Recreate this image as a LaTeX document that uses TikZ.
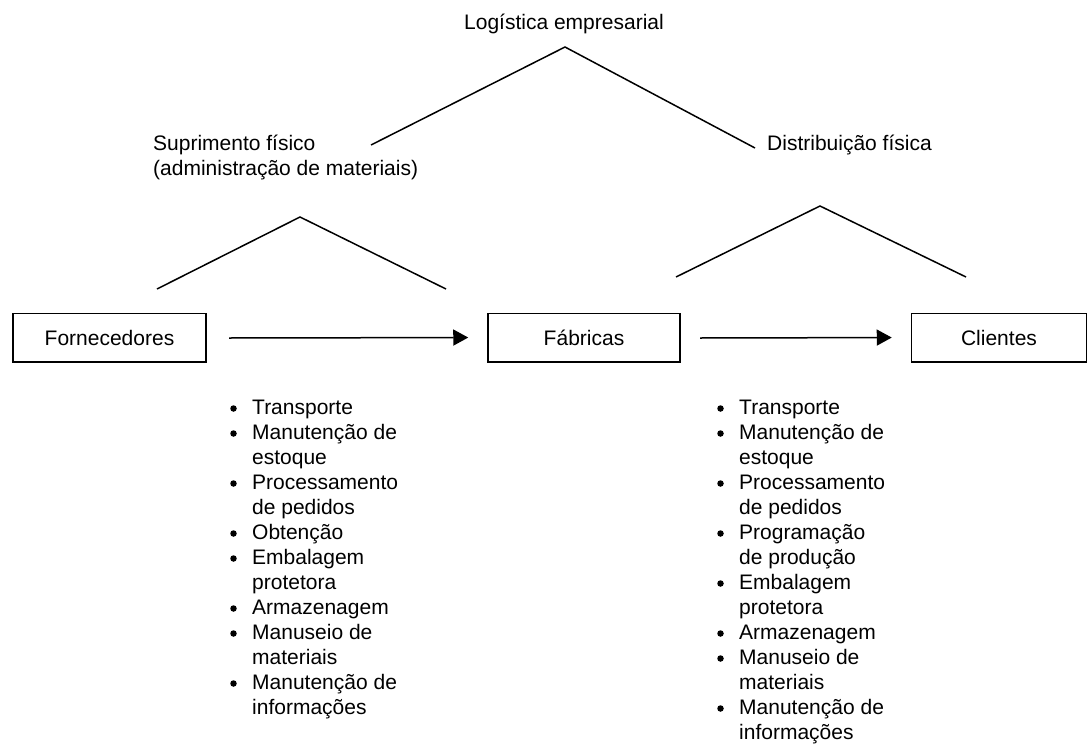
\documentclass[tikz,border=0pt]{standalone}
\usepackage{fontspec}
\setmainfont{Liberation Sans}
\usetikzlibrary{arrows.meta}
\begin{document}
\begin{tikzpicture}[x=1pt,y=-1pt,
  font=\fontsize{21}{25}\selectfont,
  label/.style={inner sep=0pt, align=left},
  box/.style={draw, line width=1.5pt, minimum height=48.5pt, inner sep=0pt},
  link/.style={line width=1.5pt},
  flow/.style={line width=1.5pt, -{Triangle[length=15pt,width=16pt]}},
  item/.style={inner sep=0pt, anchor=base west},
  dot/.style={circle, fill, inner sep=0pt, minimum size=6.5pt}]
\useasboundingbox (0,0) rectangle (1090,747);

% headings
\node[label] (lg) at (564,24) {Logística empresarial};
\node[label, anchor=west] (sup) at (153,157) {Suprimento físico\\(administração de materiais)};
\node[label, anchor=west] (dist) at (767,145) {Distribuição física};

% branching lines
\coordinate (t0) at (565,47);
\coordinate (t1) at (371,145);
\coordinate (t2) at (755,148);
\draw[link] (t1) -- (t0) -- (t2);

\coordinate (l0) at (300,217);
\coordinate (l1) at (157,289);
\coordinate (l2) at (446,289);
\draw[link] (l1) -- (l0) -- (l2);

\coordinate (r0) at (820,206);
\coordinate (r1) at (676,277);
\coordinate (r2) at (966,277);
\draw[link] (r1) -- (r0) -- (r2);

% chain of boxes
\node[box, minimum width=193pt] (forn) at (109.5,337.5) {Fornecedores};
\node[box, minimum width=192pt] (fab) at (584,337.5) {Fábricas};
\node[box, minimum width=175pt] (cli) at (999,337.5) {Clientes};

\coordinate (a1) at (229,338);
\coordinate (a2) at (700,338);
\draw[flow, shorten >=19pt] (a1) -- (fab.west);
\draw[flow, shorten >=19pt] (a2) -- (cli.west);

% activity lists
\foreach \b/\t [count=\i from 0] in {
  1/Transporte, 1/Manutenção de, 0/estoque, 1/Processamento, 0/de pedidos,
  1/Obtenção, 1/Embalagem, 0/protetora, 1/Armazenagem, 1/Manuseio de,
  0/materiais, 1/Manutenção de, 0/informações}{
  \node[item] (s\i) at (252,{414+25*\i}) {\t};
  \ifnum\b=1 \node[dot] (sb\i) at (233.5,{408.5+25*\i}) {};\fi
}
\foreach \b/\t [count=\i from 0] in {
  1/Transporte, 1/Manutenção de, 0/estoque, 1/Processamento, 0/de pedidos,
  1/Programação, 0/de produção, 1/Embalagem, 0/protetora, 1/Armazenagem,
  1/Manuseio de, 0/materiais, 1/Manutenção de, 0/informações}{
  \node[item] (d\i) at (739,{414+25*\i}) {\t};
  \ifnum\b=1 \node[dot] (db\i) at (720.5,{408.5+25*\i}) {};\fi
}
\end{tikzpicture}
\end{document}
